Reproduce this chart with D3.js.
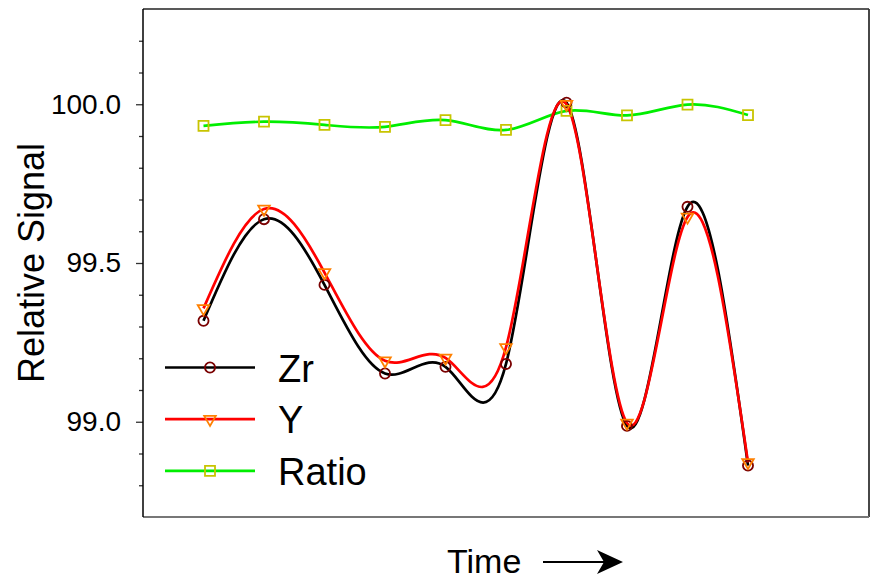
<!DOCTYPE html>
<html>
<head>
<meta charset="utf-8">
<script src="https://cdn.jsdelivr.net/npm/d3@7"></script>
<style>
  body { margin: 0; background: #fff; }
  svg { display: block; font-family: "Liberation Sans", Arial, sans-serif; }
</style>
</head>
<body>
<svg width="872" height="580"></svg>
<script>
// measurement index (time order) and three series
const points = [1, 2, 3, 4, 5, 6, 7, 8, 9, 10];
const zr = [99.318, 99.638, 99.431, 99.152, 99.173, 99.182, 100.005, 98.987, 99.677, 98.862];
const yy = [99.357, 99.670, 99.470, 99.192, 99.201, 99.234, 100.000, 98.996, 99.645, 98.872];
const ratio = [99.932, 99.945, 99.935, 99.929, 99.950, 99.919, 99.979, 99.965, 99.999, 99.966];
const majorTicks = [99.0, 99.5, 100.0];
const minorTicks = [98.8, 98.9, 99.1, 99.2, 99.3, 99.4, 99.6, 99.7, 99.8, 99.9, 100.1, 100.2];
const seriesNames = ['Zr', 'Y', 'Ratio'];

const margin = { top: 9, right: 3, bottom: 63, left: 143 };
const width = 872 - margin.left - margin.right;
const height = 580 - margin.top - margin.bottom;

const svg = d3.select('svg');
const g = svg.append('g')
  .attr('transform', `translate(${margin.left}, ${margin.top})`);

const x = d3.scaleLinear().domain([0, 12]).range([0, width]);
const y = d3.scaleLinear().domain([98.7, 100.3]).range([height, 0]);

// left axis ticks
g.append('g')
  .call(d3.axisLeft(y).tickValues(minorTicks).tickSize(4).tickFormat(''))
  .call(a => a.select('.domain').remove())
  .call(a => a.selectAll('line').attr('stroke', '#333').attr('stroke-width', 1.3));

g.append('g')
  .call(d3.axisLeft(y).tickValues(majorTicks).tickSize(7).tickPadding(15).tickFormat(d3.format('.1f')))
  .call(a => a.select('.domain').remove())
  .call(a => a.selectAll('line').attr('stroke', '#333').attr('stroke-width', 1.3))
  .call(a => a.selectAll('text')
    .attr('fill', '#000')
    .style('font-size', '28px')
    .style('font-family', '"Liberation Sans", Arial, sans-serif'));

// frame
g.append('line').attr('x1', 0).attr('x2', width).attr('y1', 0).attr('y2', 0)
  .attr('stroke', '#222').attr('stroke-width', 1.5);
g.append('line').attr('x1', width).attr('x2', width).attr('y1', 0).attr('y2', height)
  .attr('stroke', '#333').attr('stroke-width', 1.8);
g.append('line').attr('x1', 0).attr('x2', width).attr('y1', height).attr('y2', height)
  .attr('stroke', '#777').attr('stroke-width', 2);
g.append('line').attr('x1', 0).attr('x2', 0).attr('y1', 0).attr('y2', height)
  .attr('stroke', '#000').attr('stroke-width', 1.5);

const series = [
  { name: seriesNames[2], values: ratio, line: '#00ee00', mark: '#c8c400', symbol: d3.symbolSquare, size: 100, rotate: 0 },
  { name: seriesNames[0], values: zr, line: '#000000', mark: '#7a0000', symbol: d3.symbolCircle, size: 80, rotate: 0 },
  { name: seriesNames[1], values: yy, line: '#ff0000', mark: '#ff8000', symbol: d3.symbolTriangle, size: 58, rotate: 180 }
];

const line = d3.line()
  .x((d, i) => x(points[i]))
  .y(d => y(d))
  .curve(d3.curveNatural);

series.forEach(s => {
  g.append('path')
    .datum(s.values)
    .attr('d', line)
    .attr('fill', 'none')
    .attr('stroke', s.line)
    .attr('stroke-width', 2.7);
});

series.forEach(s => {
  g.selectAll(null)
    .data(s.values)
    .enter()
    .append('path')
    .attr('d', d3.symbol().type(s.symbol).size(s.size))
    .attr('transform', (d, i) => `translate(${x(points[i])}, ${y(d)}) rotate(${s.rotate})`)
    .attr('fill', 'none')
    .attr('stroke', s.mark)
    .attr('stroke-width', 1.8);
});

// legend
const legendOrder = [series[1], series[2], series[0]];
const legend = g.selectAll('.legend')
  .data(legendOrder)
  .enter()
  .append('g')
  .attr('class', 'legend')
  .attr('transform', (d, i) => `translate(22, ${358.5 + i * 51.7})`);

legend.append('line')
  .attr('x1', 0).attr('x2', 90)
  .attr('stroke', d => d.line)
  .attr('stroke-width', 2.7);

legend.append('path')
  .attr('d', d => d3.symbol().type(d.symbol).size(d.size)())
  .attr('transform', d => `translate(45, 0) rotate(${d.rotate})`)
  .attr('fill', 'none')
  .attr('stroke', d => d.mark)
  .attr('stroke-width', 1.8);

legend.append('text')
  .attr('x', 113)
  .attr('y', 14)
  .style('font-size', '38px')
  .text(d => d.name);

// axis titles
svg.append('text')
  .attr('transform', `translate(44, ${margin.top + height / 2}) rotate(-90)`)
  .attr('text-anchor', 'middle')
  .style('font-size', '36px')
  .text('Relative Signal');

svg.append('text')
  .attr('x', 447)
  .attr('y', 573)
  .style('font-size', '34px')
  .text('Time');

svg.append('line')
  .attr('x1', 543).attr('x2', 612)
  .attr('y1', 562).attr('y2', 562)
  .attr('stroke', '#000')
  .attr('stroke-width', 2.2);

svg.append('path')
  .attr('d', 'M623,562 L597,550 L604,562 L597,574 Z')
  .attr('fill', '#000');
</script>
</body>
</html>
